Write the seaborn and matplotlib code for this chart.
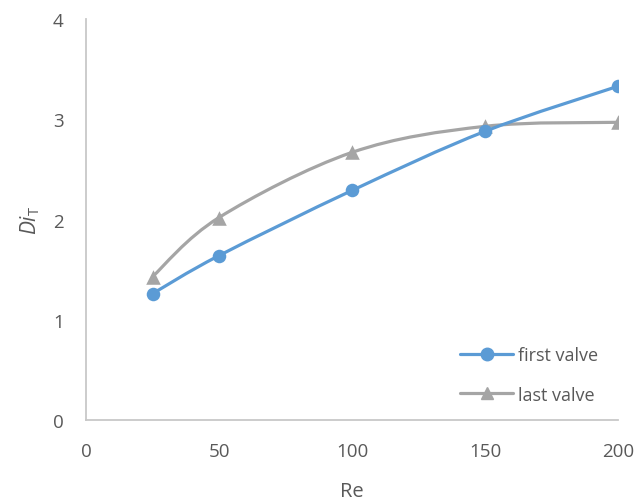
import numpy as np
import pandas as pd
import matplotlib
matplotlib.use("Agg")
import matplotlib.pyplot as plt
from matplotlib.path import Path
from matplotlib.patches import PathPatch
from matplotlib.lines import Line2D
import seaborn as sns

# Data
re_values = [25, 50, 100, 150, 200]
first_valve = [1.26, 1.64, 2.29, 2.88, 3.33]
last_valve = [1.43, 2.02, 2.67, 2.93, 2.97]
series_names = ["first valve", "last valve"]
x_ticks = [0, 50, 100, 150, 200]
y_ticks = [0, 1, 2, 3, 4]

BLUE = "#5B9BD5"
GREY = "#A5A5A5"
TEXT = "#595959"
SPINE = "#C8C8C8"

sns.set_theme(style="white")
plt.rcParams["font.family"] = ["Open Sans", "DejaVu Sans"]
plt.rcParams["mathtext.fontset"] = "custom"
plt.rcParams["mathtext.it"] = "Open Sans:italic"
plt.rcParams["mathtext.rm"] = "Open Sans"

df = pd.DataFrame({
    "Re": re_values * 2,
    "Di": first_valve + last_valve,
    "series": [series_names[0]] * len(re_values) + [series_names[1]] * len(re_values),
})

fig = plt.figure(figsize=(6.38, 5.02), dpi=100)
ax = fig.add_axes([0.1348, 0.1614, 0.8339, 0.7986])
ax.set_xlim(0, 200)
ax.set_ylim(0, 4)


def smooth_path(xs, ys):
    """Bezier curve through the points (Excel-style smoothing in screen space)."""
    pts = ax.transData.transform(np.column_stack([xs, ys]))
    n = len(pts)
    verts = [pts[0]]
    codes = [Path.MOVETO]
    for i in range(n - 1):
        p0 = pts[i - 1] if i > 0 else pts[i]
        p1 = pts[i]
        p2 = pts[i + 1]
        p3 = pts[i + 2] if i + 2 < n else pts[i + 1]
        c1 = p1 + (p2 - p0) / 6.0
        c2 = p2 - (p3 - p1) / 6.0
        verts += [c1, c2, p2]
        codes += [Path.CURVE4] * 3
    verts = ax.transData.inverted().transform(np.array(verts))
    return Path(verts, codes)


for name, vals, color in [(series_names[1], last_valve, GREY),
                          (series_names[0], first_valve, BLUE)]:
    patch = PathPatch(smooth_path(re_values, vals), facecolor="none",
                      edgecolor=color, lw=2.3, zorder=2, capstyle="round")
    ax.add_patch(patch)

sns.scatterplot(data=df[df["series"] == series_names[1]], x="Re", y="Di",
                marker="^", s=110, color=GREY, edgecolor=GREY, linewidth=0,
                ax=ax, legend=False, zorder=3)
sns.scatterplot(data=df[df["series"] == series_names[0]], x="Re", y="Di",
                marker="o", s=95, color=BLUE, edgecolor=BLUE, linewidth=0,
                ax=ax, legend=False, zorder=4)

ax.set_xticks(x_ticks)
ax.set_yticks(y_ticks)
ax.tick_params(axis="both", length=0, labelsize=13.5, colors=TEXT)
ax.tick_params(axis="x", pad=16)
ax.tick_params(axis="y", pad=16)

for side in ["top", "right"]:
    ax.spines[side].set_visible(False)
for side in ["left", "bottom"]:
    ax.spines[side].set_color(SPINE)
    ax.spines[side].set_linewidth(1.3)

ax.set_xlabel("Re", fontsize=14.5, color=TEXT, labelpad=15)
ax.set_ylabel(r"$\mathit{Di}_{\mathrm{T}}$", fontsize=15, color=TEXT, labelpad=8)

handles = [
    Line2D([], [], color=BLUE, lw=2.3, marker="o", markersize=9),
    Line2D([], [], color=GREY, lw=2.3, marker="^", markersize=9),
]
leg = ax.legend(handles, series_names, loc="lower right", frameon=False,
                fontsize=13, handlelength=2.9, handletextpad=0.3,
                labelspacing=1.2, bbox_to_anchor=(0.99, 0.005), numpoints=1,
                borderpad=0.3)
for t in leg.get_texts():
    t.set_color(TEXT)

fig.savefig("out.png", dpi=100)
